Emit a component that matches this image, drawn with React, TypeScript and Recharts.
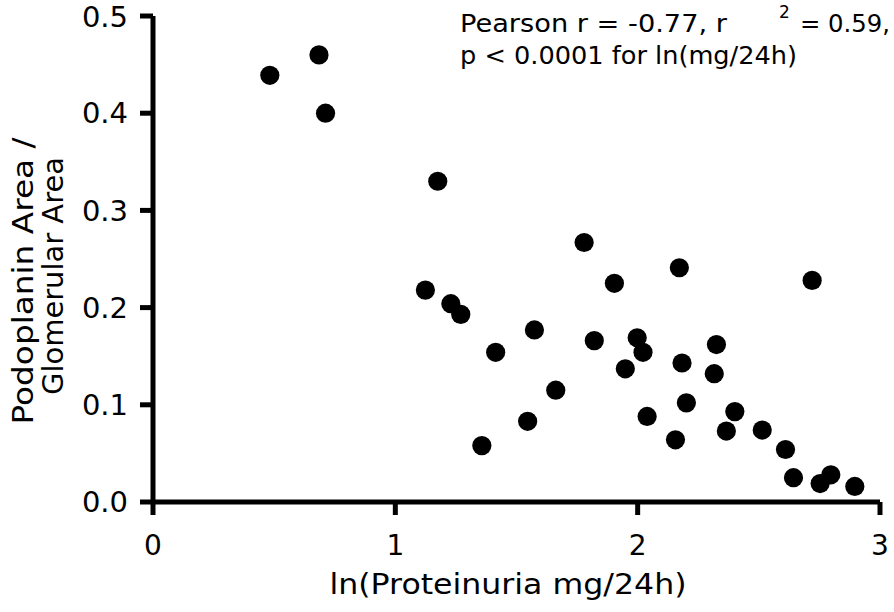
import React from "react";
import { Customized, Scatter, ScatterChart, XAxis, YAxis } from "recharts";

const lnProteinuria = [
  0.482, 0.685, 0.712, 1.175, 1.124, 1.229, 1.27, 1.414, 1.357, 1.546, 1.574,
  1.662, 1.779, 1.904, 1.821, 1.949, 1.998, 2.022, 2.039, 2.156, 2.172, 2.183,
  2.201, 2.325, 2.316, 2.401, 2.366, 2.514, 2.61, 2.643, 2.72, 2.753, 2.797, 2.896,
];
const podoplaninRatio = [
  0.439, 0.46, 0.4, 0.33, 0.218, 0.204, 0.193, 0.154, 0.058, 0.083, 0.177,
  0.115, 0.267, 0.225, 0.166, 0.137, 0.169, 0.154, 0.088, 0.064, 0.241, 0.143,
  0.102, 0.162, 0.132, 0.093, 0.073, 0.074, 0.054, 0.025, 0.228, 0.019, 0.028, 0.016,
];
const xTicks = [0, 1, 2, 3];
const yTicks = [0, 0.1, 0.2, 0.3, 0.4, 0.5];

const points = lnProteinuria.map((x, i) => ({ x, y: podoplaninRatio[i] }));

const FONT = "'DejaVu Sans', sans-serif";

// titles and the stats note, fitted to the widths seen in the reference
function Annotations() {
  return (
    <g fontFamily={FONT} fill="#000">
      <text x={460} y={32} fontSize={25} textLength={267} lengthAdjust="spacingAndGlyphs">
        Pearson r = -0.77, r
      </text>
      <text x={779} y={18} fontSize={17}>2</text>
      <text x={800} y={32} fontSize={25} textLength={90} lengthAdjust="spacingAndGlyphs">
        = 0.59,
      </text>
      <text x={460} y={64} fontSize={25} textLength={337} lengthAdjust="spacingAndGlyphs">
        p &lt; 0.0001 for ln(mg/24h)
      </text>
      <text
        x={508}
        y={594}
        fontSize={28}
        textAnchor="middle"
        textLength={357}
        lengthAdjust="spacingAndGlyphs"
      >
        ln(Proteinuria mg/24h)
      </text>
      <g transform="translate(0,280) rotate(-90)">
        <text x={-1} y={33} fontSize={28} textAnchor="middle" textLength={287} lengthAdjust="spacingAndGlyphs">
          Podoplanin Area /
        </text>
        <text x={4} y={63} fontSize={28} textAnchor="middle" textLength={238} lengthAdjust="spacingAndGlyphs">
          Glomerular Area
        </text>
      </g>
    </g>
  );
}

export default function App() {
  return (
    <div style={{ position: "absolute", left: 0, top: 0, background: "#fff" }}>
      <ScatterChart
        width={894}
        height={612}
        margin={{ top: 16, right: 14, bottom: 0, left: 0 }}
      >
        <XAxis
          type="number"
          dataKey="x"
          domain={[0, 3]}
          ticks={xTicks}
          height={110}
          axisLine={{ stroke: "#000", strokeWidth: 5 }}
          tickLine={{ stroke: "#000", strokeWidth: 5 }}
          tickSize={13}
          tickMargin={20}
          tick={{ fill: "#000", fontSize: 28, fontFamily: FONT }}
        />
        <YAxis
          type="number"
          dataKey="y"
          domain={[0, 0.5]}
          ticks={yTicks}
          width={153}
          axisLine={{ stroke: "#000", strokeWidth: 5 }}
          tickLine={{ stroke: "#000", strokeWidth: 5 }}
          tickSize={13}
          tickMargin={12}
          tick={{ fill: "#000", fontSize: 29, fontFamily: FONT }}
          tickFormatter={(v: number) => v.toFixed(1)}
        />
        <Scatter
          data={points}
          isAnimationActive={false}
          shape={(p: any) => <circle cx={p.cx} cy={p.cy} r={9.6} fill="#000" />}
        />
        <Customized component={Annotations} />
      </ScatterChart>
    </div>
  );
}
